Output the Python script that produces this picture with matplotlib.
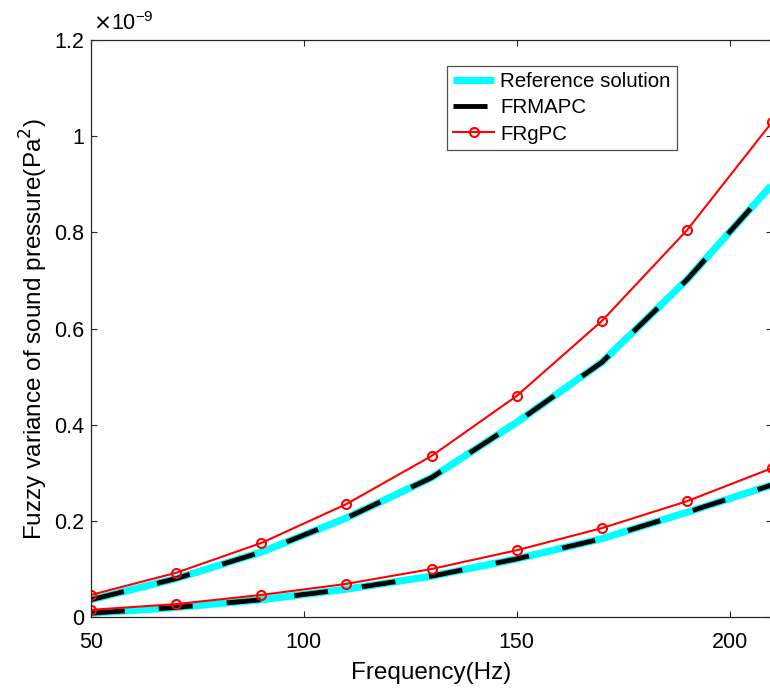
import numpy as np
import matplotlib.pyplot as plt
from matplotlib.ticker import MultipleLocator

# === DATOS (varianza en unidades de 1e-9 Pa^2) ===
freq = [50, 70, 90, 110, 130, 150, 170, 190, 210]

ref_upper = [0.036, 0.080, 0.135, 0.206, 0.290, 0.405, 0.530, 0.702, 0.900]
ref_lower = [0.008, 0.020, 0.036, 0.058, 0.085, 0.121, 0.163, 0.218, 0.275]

frmapc_upper = ref_upper
frmapc_lower = ref_lower

frgpc_upper = [0.046, 0.092, 0.154, 0.235, 0.335, 0.460, 0.616, 0.805, 1.030]
frgpc_lower = [0.015, 0.027, 0.046, 0.069, 0.100, 0.139, 0.185, 0.241, 0.310]

plt.rcParams['font.family'] = ['Liberation Sans', 'DejaVu Sans']
plt.rcParams['lines.scale_dashes'] = False

fig = plt.figure(figsize=(7.7, 6.91), dpi=100)
ax = fig.add_axes([0.118, 0.107, 0.885, 0.835])

# solucion de referencia (cian gruesa)
ax.plot(freq, ref_upper, color='cyan', lw=5.2, label='Reference solution', solid_capstyle='butt')
ax.plot(freq, ref_lower, color='cyan', lw=5.2, solid_capstyle='butt')

# FRMAPC (negra discontinua)
ax.plot(freq, frmapc_upper, color='black', lw=3.5, dashes=(24.5, 24.5), label='FRMAPC',
        dash_capstyle='butt')
ax.plot(freq, frmapc_lower, color='black', lw=3.5, dashes=(24.5, 24.5), dash_capstyle='butt')

# FRgPC (roja con circulos)
ax.plot(freq, frgpc_upper, color='red', lw=1.5, marker='o', ms=6.5, mfc='none', mew=1.5, label='FRgPC')
ax.plot(freq, frgpc_lower, color='red', lw=1.5, marker='o', ms=6.5, mfc='none', mew=1.5)

ax.set_xlim(50, 210)
ax.set_ylim(0, 1.2)
ax.xaxis.set_major_locator(MultipleLocator(50))
ax.yaxis.set_major_locator(MultipleLocator(0.2))
ax.yaxis.set_major_formatter(plt.FuncFormatter(lambda v, p: f'{v:g}'))
ax.tick_params(direction='in', length=4.5, width=0.8, labelsize=15.5, top=True, right=True,
               color='#262626')
ax.tick_params(axis='x', pad=11)
ax.tick_params(axis='y', pad=5)
for s in ax.spines.values():
    s.set_linewidth(0.9)
    s.set_color('#262626')

ax.set_xlabel('Frequency(Hz)', fontsize=17.5, labelpad=6)
ax.set_ylabel('Fuzzy variance of sound pressure(Pa$^2$)', fontsize=17.5, labelpad=3)
ax.text(0.003, 1.008, r'$\times$10$^{\mathregular{-9}}$', transform=ax.transAxes, fontsize=15.5,
        ha='left', va='bottom')

leg = ax.legend(loc='upper left', bbox_to_anchor=(447 / 770, 1 - 66 / 691),
                bbox_transform=fig.transFigure, fontsize=14.8, frameon=True, fancybox=False,
                handlelength=2.0, borderaxespad=0, borderpad=0.3, labelspacing=0.35,
                handletextpad=0.3)
leg.get_frame().set_edgecolor('#262626')
leg.get_frame().set_linewidth(0.9)

fig.savefig('out.png', dpi=100)
